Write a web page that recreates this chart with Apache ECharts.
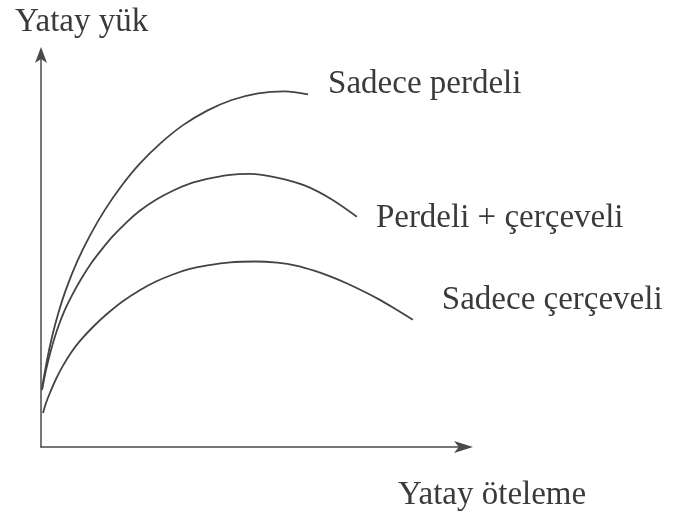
<!DOCTYPE html>
<html>
<head>
<meta charset="utf-8">
<script src="https://cdn.jsdelivr.net/npm/echarts@6/dist/echarts.min.js"></script>
<style>
  html, body { margin: 0; padding: 0; background: #fff; }
  #chart { width: 674px; height: 517px; }
</style>
</head>
<body>
<div id="chart"></div>
<script>
// eğriler: yatay öteleme (x) - yatay yük (y), birimsiz şema
const seriesNames = ['Sadece perdeli', 'Perdeli + çerçeveli', 'Sadece çerçeveli']

const perdeliX = [0.24, 1.42, 2.59, 4.01, 5.90, 8.49, 11.6, 15.1, 19.1, 23.3, 28.1, 33.5, 39.2, 45.0, 51.2, 57.5, 63.0]
const perdeliY = [15.0, 22.1, 28.0, 33.8, 40.1, 47.1, 53.9, 60.4, 66.6, 72.1, 77.2, 81.9, 85.6, 88.3, 90.0, 90.5, 89.7]

const ikisiX = [0.24, 1.18, 2.36, 3.77, 5.42, 7.31, 9.43, 11.8, 14.2, 17.0, 20.3, 23.3, 27.1, 31.1, 35.1, 39.2, 44.1, 49.3, 55.9, 62.3, 68.6, 74.5]
const ikisiY = [14.5, 19.6, 24.7, 29.7, 34.4, 38.6, 42.7, 46.7, 50.1, 53.7, 57.3, 60.1, 62.9, 65.2, 67.0, 68.2, 69.2, 69.5, 68.5, 66.5, 63.0, 58.6]

const cerceveX = [0.47, 1.18, 2.12, 3.54, 5.19, 7.08, 9.20, 12.3, 15.6, 19.3, 23.3, 27.1, 31.1, 35.1, 39.2, 44.6, 50.5, 55.7, 60.4, 64.6, 68.2, 72.2, 75.9, 79.5, 83.0, 87.7]
const cerceveY = [8.65, 11.2, 13.8, 17.3, 20.7, 24.0, 27.0, 30.6, 33.9, 37.1, 39.9, 42.1, 43.9, 45.3, 46.2, 47.0, 47.2, 46.9, 46.1, 44.8, 43.4, 41.6, 39.7, 37.7, 35.5, 32.4]

const axisTitles = ['Yatay öteleme', 'Yatay yük']

const FONT = 'Liberation Serif'
const INK = '#3a3a3a'

function pairs(xs, ys) {
  return xs.map((x, i) => [x, ys[i]])
}

// etiket kaydırmaları (eğri ucuna göre)
const labelOffsets = [[20, -10], [19, 2], [29, -19]]

const chart = echarts.init(document.getElementById('chart'))

function axisBase(symbolSize, symbolOffset) {
  return {
    type: 'value',
    min: 0,
    max: 100,
    axisLine: {
      show: true,
      symbol: ['none', 'arrow'],
      symbolSize: symbolSize,
      symbolOffset: symbolOffset,
      lineStyle: { color: '#4a4a4a', width: 1.5 }
    },
    axisTick: { show: false },
    axisLabel: { show: false },
    splitLine: { show: false }
  }
}

const data = [pairs(perdeliX, perdeliY), pairs(ikisiX, ikisiY), pairs(cerceveX, cerceveY)]

const option = {
  animation: false,
  backgroundColor: '#fff',
  grid: { left: 41, right: 209, top: 54, bottom: 70 },
  xAxis: axisBase([9, 19], [0, 8]),
  yAxis: axisBase([9, 16], [0, 7]),
  graphic: [
    {
      type: 'text', x: 15, y: 22,
      style: { text: axisTitles[1], font: '33px "' + FONT + '"', fill: INK, align: 'left', verticalAlign: 'middle' }
    },
    {
      type: 'text', x: 398, y: 495,
      style: { text: axisTitles[0], font: '33px "' + FONT + '"', fill: INK, align: 'left', verticalAlign: 'middle' }
    }
  ],
  series: data.map((d, i) => ({
    name: seriesNames[i],
    type: 'line',
    data: d,
    smooth: 0.3,
    showSymbol: false,
    lineStyle: { color: '#444', width: 1.8 },
    endLabel: {
      show: true,
      formatter: '{a}',
      distance: 0,
      offset: labelOffsets[i],
      fontFamily: FONT,
      fontSize: 33,
      color: INK
    }
  }))
}

chart.setOption(option)
</script>
</body>
</html>
